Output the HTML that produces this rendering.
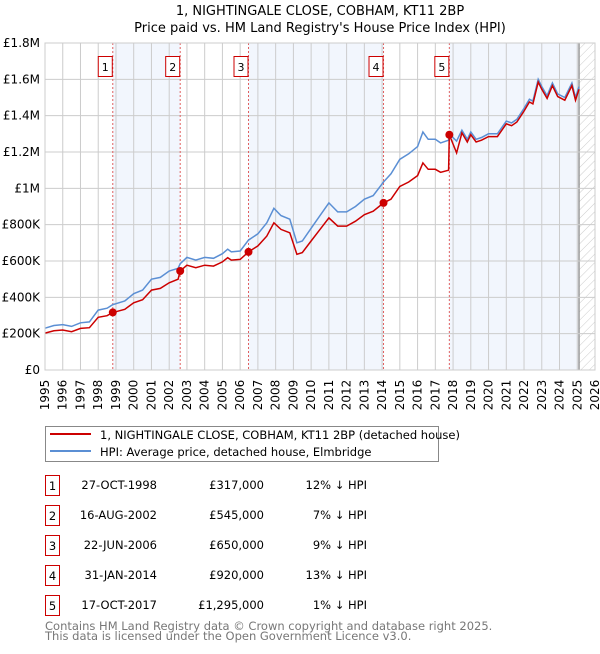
<!DOCTYPE html>
<html><head><meta charset="utf-8"><style>
body{margin:0;background:#fff;font-family:"DejaVu Sans","Liberation Sans",sans-serif;}
svg text{font-family:"DejaVu Sans","Liberation Sans",sans-serif;}
</style></head><body>
<svg id="chart" width="600" height="650" xmlns="http://www.w3.org/2000/svg">
<text x="320" y="15" text-anchor="middle" font-size="13">1, NIGHTINGALE CLOSE, COBHAM, KT11 2BP</text>
<text x="320" y="32" text-anchor="middle" font-size="13">Price paid vs. HM Land Registry's House Price Index (HPI)</text>
<defs><pattern id="hatch" width="6" height="6" patternUnits="userSpaceOnUse" patternTransform="rotate(45)"><line x1="0" y1="0" x2="0" y2="6" stroke="#ccc" stroke-width="1"/></pattern></defs>
<g id="bands"></g><g id="grid"></g><g id="vlines"></g><g id="series"></g><g id="labels"></g>
<rect x="45" y="43" width="550" height="327" fill="none" stroke="#ccc"/>
<g>
<rect x="45.5" y="426.5" width="393" height="35" fill="#fff" stroke="#888"/>
<line x1="50" y1="434" x2="91" y2="434" stroke="#cc0000" stroke-width="2"/>
<text x="100" y="439" font-size="11.5">1, NIGHTINGALE CLOSE, COBHAM, KT11 2BP (detached house)</text>
<line x1="50" y1="451" x2="91" y2="451" stroke="#5b8fd4" stroke-width="2"/>
<text x="100" y="456" font-size="11.5">HPI: Average price, detached house, Elmbridge</text>
</g>
<g id="table" font-size="11.5"></g>
<text x="45" y="630" font-size="11.5" fill="#777">Contains HM Land Registry data © Crown copyright and database right 2025.</text>
<text x="45" y="640" font-size="11.5" fill="#777">This data is licensed under the Open Government Licence v3.0.</text>
</svg>
<script>
const dates=[1995.0,1995.5,1996,1996.5,1997,1997.5,1998,1998.5,1998.82,1999,1999.5,2000,2000.5,2001,2001.5,2002,2002.5,2002.62,2003,2003.5,2004,2004.5,2005,2005.3,2005.5,2006,2006.47,2007,2007.5,2007.9,2008.3,2008.8,2009.2,2009.5,2010,2010.5,2011,2011.5,2012,2012.5,2013,2013.5,2014.08,2014.5,2015,2015.5,2016,2016.3,2016.6,2017,2017.3,2017.75,2017.79,2018.2,2018.5,2018.8,2019,2019.3,2019.6,2020,2020.5,2021,2021.3,2021.6,2022,2022.3,2022.5,2022.8,2023,2023.3,2023.6,2023.9,2024.3,2024.7,2024.9,2025.1];
const hpi=[230,245,250,240,260,265,330,340,360,365,380,420,440,500,510,545,560,585,620,605,620,615,640,665,650,655,715,750,810,890,850,830,700,710,780,850,920,870,870,900,940,960,1035,1080,1160,1190,1230,1310,1270,1270,1250,1265,1300,1260,1320,1270,1310,1270,1280,1300,1300,1370,1360,1380,1440,1490,1480,1600,1560,1510,1580,1520,1500,1580,1500,1560];
const paid=[203,216,220,211,229,233,290,299,317,321,334,370,387,440,449,480,500,545,577,563,577,572,595,618,605,609,650,683,737,810,774,755,637,646,710,774,837,792,792,819,855,874,920,940,1010,1035,1070,1140,1105,1105,1088,1100,1295,1195,1305,1255,1295,1255,1265,1285,1285,1355,1345,1365,1425,1475,1465,1585,1545,1495,1565,1505,1485,1565,1485,1545];
const saleDates=[1998.82,2002.62,2006.47,2014.08,2017.79];
const salePrices=[317,545,650,920,1295];
const saleLabels=["27-OCT-1998","16-AUG-2002","22-JUN-2006","31-JAN-2014","17-OCT-2017"];
const salePriceText=["£317,000","£545,000","£650,000","£920,000","£1,295,000"];
const saleHpiText=["12% ↓ HPI","7% ↓ HPI","9% ↓ HPI","13% ↓ HPI","1% ↓ HPI"];
const yTicks=[0,200,400,600,800,1000,1200,1400,1600,1800];
const yTickLabels=["£0","£200K","£400K","£600K","£800K","£1M","£1.2M","£1.4M","£1.6M","£1.8M"];
const NS="http://www.w3.org/2000/svg";
const X=d=>45+(d-1995)*550/31;
const Y=v=>370-v*327/1800;
function mk(parent,tag,attrs){const e=document.createElementNS(NS,tag);for(const k in attrs)e.setAttribute(k,attrs[k]);document.getElementById(parent).appendChild(e);return e;}
// bands
const bandStarts=[saleDates[0],saleDates[2],saleDates[4]];
const bandEnds=[saleDates[1],saleDates[3],2025.1];
for(let i=0;i<bandStarts.length;i++){const r=mk('bands','rect',{x:X(bandStarts[i]),y:43,width:X(bandEnds[i])-X(bandStarts[i]),height:327,fill:'#eef3fc',opacity:0.75});

}
const h=mk('bands','rect',{x:X(2025.1),y:43,width:595-X(2025.1),height:327,fill:'url(#hatch)'});


const hl=mk('bands','line',{x1:X(2025.1),y1:43,x2:X(2025.1),y2:370,stroke:'#999','stroke-width':1.5});


// grid
for(let yr=1995;yr<=2026;yr++){const l=mk('grid','line',{x1:X(yr),y1:43,x2:X(yr),y2:370,stroke:'#ccc'});


const t=mk('labels','text',{x:0,y:0,'font-size':12,transform:`translate(${X(yr)+4},${395}) rotate(-90)`,'text-anchor':'middle'});t.textContent=yr;

}
yTicks.forEach((v,i)=>{const l=mk('grid','line',{x1:45,y1:Y(v),x2:595,y2:Y(v),stroke:'#ccc'});


const t=mk('labels','text',{x:40,y:Y(v)+4,'font-size':12,'text-anchor':'end'});t.textContent=yTickLabels[i];

});
// sale vlines + boxes
saleDates.forEach((d,i)=>{const l=mk('vlines','line',{x1:X(d),y1:43,x2:X(d),y2:370,stroke:'#e06060','stroke-dasharray':'2,2'});


const b=mk('labels','rect',{x:X(d)-14.5,y:56.5,width:14,height:20,fill:'#fff',stroke:'#cc0000'});


const t=mk('labels','text',{x:X(d)-7.5,y:71,'font-size':11,'text-anchor':'middle'});t.textContent=i+1;

});
// series
const pts=(arr)=>dates.map((d,i)=>X(d).toFixed(1)+','+Y(arr[i]).toFixed(1)).join(' ');
const pb=mk('series','polyline',{points:pts(hpi),fill:'none',stroke:'#5b8fd4','stroke-width':1.5});


const pr=mk('series','polyline',{points:pts(paid),fill:'none',stroke:'#cc0000','stroke-width':1.5});


saleDates.forEach((d,i)=>{const c=mk('series','circle',{cx:X(d),cy:Y(salePrices[i]),r:4,fill:'#cc0000'});

});
// table
saleDates.forEach((d,i)=>{const y0=475+i*30;
const b=mk('table','rect',{x:45.5,y:y0+0.5,width:14,height:20,fill:'#fff',stroke:'#cc0000'});


const n=mk('table','text',{x:52.5,y:y0+15,'text-anchor':'middle'});n.textContent=i+1;


const a=mk('table','text',{x:157,y:y0+14,'text-anchor':'end'});a.textContent=saleLabels[i];


const p=mk('table','text',{x:264,y:y0+14,'text-anchor':'end'});p.textContent=salePriceText[i];


const q=mk('table','text',{x:367,y:y0+14,'text-anchor':'end'});q.textContent=saleHpiText[i];

});
</script>
</body></html>
